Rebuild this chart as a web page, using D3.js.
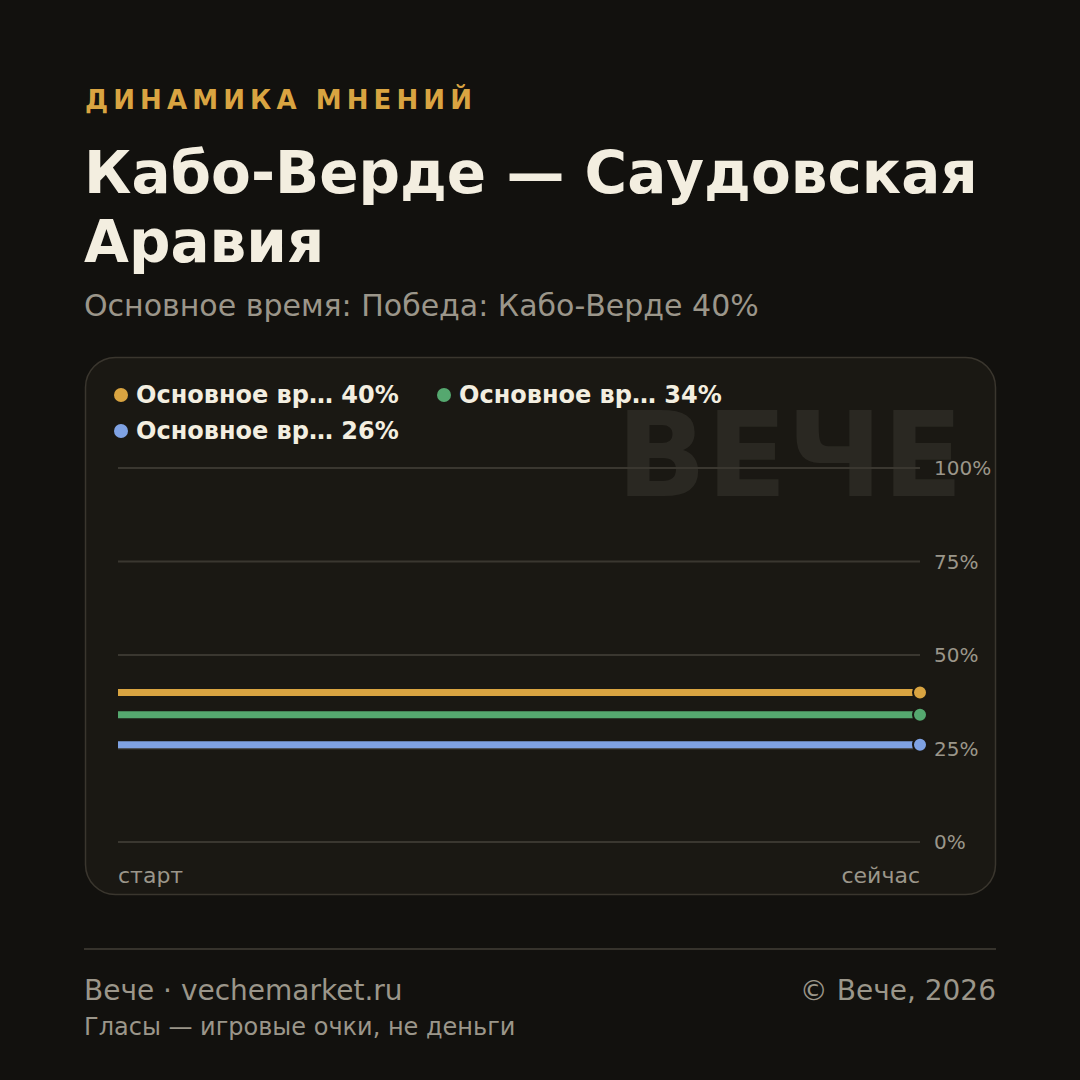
<!DOCTYPE html>
<html><head><meta charset="utf-8">
<script src="https://cdn.jsdelivr.net/npm/d3@7"></script>
<style>
html,body{margin:0;padding:0;background:#12110e;}
svg{display:block;font-family:"DejaVu Sans",sans-serif;}
</style></head>
<body>
<script>
const kicker = "ДИНАМИКА МНЕНИЙ";
const titleLines = ["Кабо-Верде — Саудовская", "Аравия"];
const subtitle = "Основное время: Победа: Кабо-Верде 40%";
const xLabels = ["старт", "сейчас"];
const seriesNames = ["Основное вр… 40%", "Основное вр… 34%", "Основное вр… 26%"];
const seriesColors = ["#d9a441", "#55a86f", "#7fa2e3"];
const series1 = [40, 40];
const series2 = [34, 34];
const series3 = [26, 26];
const yTicks = [0, 25, 50, 75, 100];
const watermark = "ВЕЧЕ";
const footerLeft = "Вече · vechemarket.ru";
const footerRight = "© Вече, 2026";
const footerNote = "Гласы — игровые очки, не деньги";

const allSeries = [series1, series2, series3];
const W = 1080, H = 1080;
const svg = d3.select("body").append("svg").attr("width", W).attr("height", H);
svg.append("rect").attr("width", W).attr("height", H).attr("fill", "#12110e");

svg.append("text").attr("x", 85).attr("y", 109).text(kicker)
  .attr("fill", "#d9a441").attr("font-weight", "bold").attr("font-size", 26).attr("letter-spacing", 5.1);

titleLines.forEach((t, i) => {
  svg.append("text").attr("x", 84).attr("y", 193 + i * 69).text(t)
    .attr("fill", "#f3eee0").attr("font-weight", "bold").attr("font-size", 58);
});
svg.append("text").attr("x", 84).attr("y", 316).text(subtitle)
  .attr("fill", "#9b968a").attr("font-size", 30);

// card
svg.append("rect").attr("x", 85.5).attr("y", 357.5).attr("width", 910).attr("height", 537)
  .attr("rx", 30).attr("fill", "#1a1813").attr("stroke", "#3a362e").attr("stroke-width", 1.5);

// watermark
svg.append("text").attr("x", 963).attr("y", 496).attr("text-anchor", "end").text(watermark)
  .attr("fill", "#2a2822").attr("font-weight", "bold").attr("font-size", 118);

const x = d3.scalePoint().domain(xLabels).range([118, 920]);
const y = d3.scaleLinear().domain([0, 100]).range([842, 468]);

const grid = svg.append("g");
grid.selectAll("line").data(yTicks).join("line")
  .attr("x1", 118).attr("x2", 920).attr("y1", d => y(d)).attr("y2", d => y(d))
  .attr("stroke", "#3a3730").attr("stroke-width", 2);
grid.selectAll("text").data(yTicks).join("text")
  .attr("x", 934).attr("y", d => y(d) + 7).text(d => d + "%")
  .attr("fill", "#9b968a").attr("font-size", 20);

svg.append("text").attr("x", x(xLabels[0])).attr("y", 883).text(xLabels[0])
  .attr("fill", "#9b968a").attr("font-size", 22);
svg.append("text").attr("x", x(xLabels[1])).attr("y", 883).attr("text-anchor", "end").text(xLabels[1])
  .attr("fill", "#9b968a").attr("font-size", 22);

const line = d3.line().x((d, i) => x(xLabels[i])).y(d => y(d));
allSeries.forEach((s, k) => {
  svg.append("path").datum(s).attr("d", line).attr("fill", "none")
    .attr("stroke", seriesColors[k]).attr("stroke-width", 7);
  svg.append("circle").attr("cx", x(xLabels[xLabels.length - 1])).attr("cy", y(s[s.length - 1]))
    .attr("r", 7).attr("fill", seriesColors[k]).attr("stroke", "#1a1813").attr("stroke-width", 2);
});

// legend
const legPos = [[121, 395], [444, 395], [121, 431]];
seriesNames.forEach((n, k) => {
  svg.append("circle").attr("cx", legPos[k][0]).attr("cy", legPos[k][1]).attr("r", 7).attr("fill", seriesColors[k]);
  svg.append("text").attr("x", legPos[k][0] + 15).attr("y", legPos[k][1] + 8).text(n)
    .attr("fill", "#f3eee0").attr("font-weight", "bold").attr("font-size", 24);
});

// footer
svg.append("line").attr("x1", 84).attr("x2", 996).attr("y1", 949).attr("y2", 949)
  .attr("stroke", "#36332c").attr("stroke-width", 2);
svg.append("text").attr("x", 84).attr("y", 1000).text(footerLeft).attr("fill", "#9b968a").attr("font-size", 28);
svg.append("text").attr("x", 996).attr("y", 1000).attr("text-anchor", "end").text(footerRight).attr("fill", "#9b968a").attr("font-size", 28);
svg.append("text").attr("x", 84).attr("y", 1035).text(footerNote).attr("fill", "#9b968a").attr("font-size", 24);
</script>
</body></html>
